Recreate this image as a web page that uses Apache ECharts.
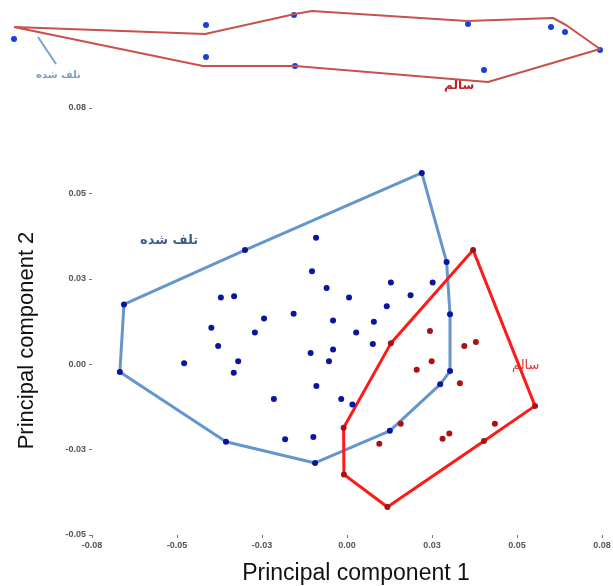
<!DOCTYPE html>
<html>
<head>
<meta charset="utf-8">
<script src="https://cdn.jsdelivr.net/npm/echarts@6/dist/echarts.min.js"></script>
<style>
html,body{margin:0;padding:0;background:#fff;}
#main{width:613px;height:586px;}
</style>
</head>
<body>
<div id="main"></div>
<script>
// PCA scores, group "تلف شده" (damaged) - hull vertices in order
var damagedHull = [
  [0.0220, 0.0560], [0.0293, 0.0299], [0.0303, 0.0146], [0.0303, -0.0020],
  [0.0274, -0.0059], [0.0126, -0.0195], [-0.0094, -0.0289], [-0.0356, -0.0227],
  [-0.0668, -0.0023], [-0.0656, 0.0175], [-0.0300, 0.0334]
];
var damagedInner = [
  [-0.0091, 0.0370], [-0.0103, 0.0272], [-0.0060, 0.0223], [0.0006, 0.0195],
  [0.0129, 0.0239], [0.0252, 0.0239], [0.0187, 0.0202], [0.0117, 0.0170],
  [-0.0371, 0.0195], [-0.0332, 0.0199], [-0.0244, 0.0134], [-0.0157, 0.0148],
  [-0.0041, 0.0128], [0.0079, 0.0124], [0.0027, 0.0093], [-0.0399, 0.0107],
  [-0.0271, 0.0093], [0.0076, 0.0059], [-0.0379, 0.0053], [-0.0107, 0.0033],
  [-0.0041, 0.0043], [-0.0053, 0.0009], [-0.0479, 0.0003], [-0.0320, 0.0009],
  [-0.0333, -0.0025], [-0.0090, -0.0064], [-0.0215, -0.0102], [-0.0017, -0.0102],
  [0.0016, -0.0118], [-0.0182, -0.0220], [-0.0099, -0.0213]
];
// group "سالم" (healthy)
var healthyHull = [
  [0.0371, 0.0334], [0.0553, -0.0122], [0.0403, -0.0225], [0.0119, -0.0418],
  [-0.0009, -0.0323], [-0.0010, -0.0186], [0.0129, 0.0061]
];
var healthyInner = [
  [0.0244, 0.0097], [0.0345, 0.0053], [0.0379, 0.0065], [0.0249, 0.0009],
  [0.0205, -0.0016], [0.0332, -0.0056], [0.0158, -0.0174], [0.0095, -0.0233],
  [0.0281, -0.0218], [0.0301, -0.0203], [0.0435, -0.0174]
];
var xTickLabels = ['-0.08', '-0.05', '-0.03', '0.00', '0.03', '0.05', '0.08'];
var yTickLabels = ['-0.05', '-0.03', '0.00', '0.03', '0.05', '0.08'];

// strip at the top of the scan (leftover of another figure)
var stripPolygon = [
  [14, 27], [205, 34], [295, 14], [312, 11], [467, 21], [553, 18], [566, 25],
  [600, 49], [488, 82], [295, 66], [203, 66]
];
var stripPoints = [
  [14, 39], [206, 25], [294, 15], [468, 24], [551, 27], [565, 32],
  [600, 50], [484, 70], [295, 66], [206, 57]
];

function closed(arr) { return arr.concat([arr[0]]); }

var chart = echarts.init(document.getElementById('main'));
var axisFont = { fontSize: 9, fontWeight: 'bold', color: '#555', fontFamily: 'Liberation Sans' };

chart.setOption({
  backgroundColor: '#fff',
  animation: false,
  grid: [
    { left: 92, right: 11, top: 108, bottom: 51, outerBoundsMode: 'none' },
    { left: 0, right: 0, top: 0, height: 100, outerBoundsMode: 'none' }
  ],
  xAxis: [{
    gridIndex: 0, type: 'value', min: -0.075, max: 0.075, interval: 0.025,
    name: 'Principal component 1', nameLocation: 'middle', nameGap: 27,
    nameTextStyle: { fontSize: 23, color: '#111', fontFamily: 'Liberation Sans', padding: [0, 0, 0, 18] },
    axisLine: { show: false, onZero: false },
    axisTick: { show: true, length: 3, lineStyle: { color: '#777' } },
    axisLabel: Object.assign({ margin: 6, formatter: function (v) {
      return xTickLabels[Math.round((v + 0.075) / 0.025)];
    } }, axisFont),
    splitLine: { show: false }
  }, {
    gridIndex: 1, type: 'value', min: 0, max: 613, show: false
  }],
  yAxis: [{
    gridIndex: 0, type: 'value', min: -0.05, max: 0.075, interval: 0.025,
    name: 'Principal component 2', nameLocation: 'middle', nameGap: 54, nameRotate: 90,
    nameTextStyle: { fontSize: 22, color: '#111', fontFamily: 'Liberation Sans', padding: [0, 38, 0, 0] },
    axisLine: { show: false, onZero: false },
    axisTick: { show: true, length: 3, lineStyle: { color: '#777' } },
    axisLabel: Object.assign({ margin: 6, formatter: function (v) {
      return yTickLabels[Math.round((v + 0.05) / 0.025)];
    } }, axisFont),
    splitLine: { show: false }
  }, {
    gridIndex: 1, type: 'value', min: 0, max: 100, inverse: true, show: false
  }],
  series: [
    {
      type: 'line', data: closed(damagedHull), showSymbol: false, symbol: 'none',
      lineStyle: { color: '#6496cd', width: 3 }, z: 2
    },
    {
      type: 'line', data: closed(healthyHull), showSymbol: false, symbol: 'none',
      lineStyle: { color: '#ff1a1a', width: 3 }, z: 3
    },
    {
      type: 'scatter', data: damagedHull.concat(damagedInner), symbolSize: 6,
      itemStyle: { color: '#0a14a0', opacity: 1 }, z: 4
    },
    {
      type: 'scatter', data: healthyHull.concat(healthyInner), symbolSize: 6,
      itemStyle: { color: '#a81212', opacity: 1 }, z: 4
    },
    {
      type: 'line', xAxisIndex: 1, yAxisIndex: 1, data: closed(stripPolygon),
      symbol: 'none', lineStyle: { color: '#c8504d', width: 2 }
    },
    {
      type: 'scatter', xAxisIndex: 1, yAxisIndex: 1, data: stripPoints,
      symbolSize: 6, itemStyle: { color: '#1540e0', opacity: 1 }
    }
  ],
  graphic: [
    { type: 'text', left: 140, top: 234, style: { text: 'تلف شده', fontSize: 13, fontWeight: 'bold', fill: '#3d5d8c', fontFamily: 'DejaVu Sans' } },
    { type: 'text', left: 512, top: 359, style: { text: 'سالم', fontSize: 13, fill: '#e83030', fontFamily: 'DejaVu Sans' } },
    { type: 'text', left: 36, top: 70, style: { text: 'تلف شده', fontSize: 10, fontWeight: 'bold', fill: '#7aa0d0', fontFamily: 'DejaVu Sans' } },
    { type: 'line', shape: { x1: 38, y1: 37, x2: 56, y2: 64 }, style: { stroke: '#7aa0d0', lineWidth: 2 } },
    { type: 'text', left: 444, top: 80, style: { text: 'سالم', fontSize: 12, fontWeight: 'bold', fill: '#c02020', fontFamily: 'DejaVu Sans' } }
  ]
});
</script>
</body>
</html>
